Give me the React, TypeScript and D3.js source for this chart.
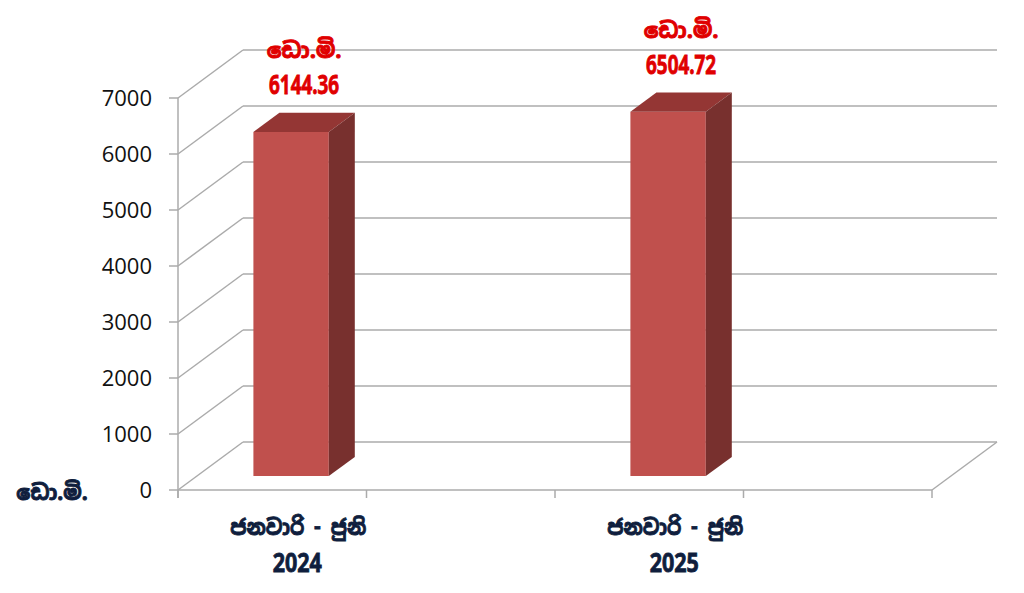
import React from "react";
import * as d3 from "d3";

const categories = ["ජනවාරි - ජුනි 2024", "ජනවාරි - ජුනි 2025"];
const values = [6144.36, 6504.72];
const valueLabels = ["6144.36", "6504.72"];
const unitLabel = "ඩො.මි.";
const yTicks = [0, 1000, 2000, 3000, 4000, 5000, 6000, 7000];

const W = 1024;
const H = 593;
const X0 = 178;
const X1 = 932;
const DX = 65;
const DY = 48;
const Z0 = 0.29;
const Z1 = 0.69;

const FRONT = "#C0504D";
const TOP = "#943634";
const SIDE = "#78302E";
const GRID = "#ABABAB";
const NAVY = "#0F1E3D";
const RED = "#E00000";
const NARROW = "'Liberation Sans Narrow', 'Arial Narrow', 'Noto Sans Sinhala', sans-serif";

export default function App() {
  const x = d3.scaleBand<string>().domain(categories).range([X0, X1]);
  const y = d3.scaleLinear().domain([0, 7000]).range([490, 98]);
  const bw = x.bandwidth();
  const barW = bw * 0.2;

  const tickXs: number[] = [];
  categories.forEach((c) => {
    const s = x(c)!;
    tickXs.push(s, s + bw / 2);
  });
  tickXs.push(X1);

  const P = (px: number, v: number, z: number) => [px + z * DX, y(v) - z * DY];
  const pts = (arr: number[][]) => arr.map((p) => p.join(",")).join(" ");

  return (
    <svg width={W} height={H} style={{ position: "absolute", left: 0, top: 0, background: "#fff" }}>
      {yTicks.map((t) => {
        const [bx, by] = P(X0, t, 1);
        return <line key={"g" + t} x1={bx} y1={by} x2={X1 + DX} y2={by} stroke={GRID} strokeWidth={1.5} />;
      })}
      {yTicks.map((t) => {
        const [bx, by] = P(X0, t, 1);
        return <line key={"d" + t} x1={X0} y1={y(t)} x2={bx} y2={by} stroke={GRID} strokeWidth={1.5} />;
      })}
      <line x1={X0} y1={y(0)} x2={X1} y2={y(0)} stroke={GRID} strokeWidth={1.5} />
      <line x1={X1} y1={y(0)} x2={X1 + DX} y2={y(0) - DY} stroke={GRID} strokeWidth={1.5} />
      <line x1={X0} y1={y(7000)} x2={X0} y2={y(0) + 8} stroke={GRID} strokeWidth={1.5} />
      {yTicks.map((t) => (
        <line key={"t" + t} x1={X0 - 9} y1={y(t)} x2={X0} y2={y(t)} stroke={GRID} strokeWidth={1.5} />
      ))}
      {tickXs.map((tx, i) => (
        <line key={"xt" + i} x1={tx} y1={y(0)} x2={tx} y2={y(0) + 8} stroke={GRID} strokeWidth={1.5} />
      ))}
      {yTicks.map((t) => (
        <text key={"yl" + t} x={152} y={y(t) + 8} textAnchor="end" fontSize={22} fontFamily="'Open Sans', 'Noto Sans', sans-serif" fill="#111">
          {t}
        </text>
      ))}
      <text x={52} y={500} textAnchor="middle" fontSize={21} fontWeight="bold" fontFamily={NARROW} fill={NAVY} stroke={NAVY} strokeWidth={0.9}>
        {unitLabel}
      </text>
      {categories.map((c, i) => {
        const cx = x(c)! + bw / 4;
        const l = cx - barW / 2;
        const r = cx + barW / 2;
        const v = values[i];
        const front = [P(l, v, Z0), P(r, v, Z0), P(r, 0, Z0), P(l, 0, Z0)];
        const top = [P(l, v, Z0), P(r, v, Z0), P(r, v, Z1), P(l, v, Z1)];
        const side = [P(r, v, Z0), P(r, v, Z1), P(r, 0, Z1), P(r, 0, Z0)];
        const [, ty] = P(cx, v, Z1);
        const lx = cx + ((Z0 + Z1) / 2) * DX;
        const parts = c.split(" ");
        const year = parts.pop();
        const lineText = parts.join(" ");
        return (
          <g key={c}>
            <polygon points={pts(front)} fill={FRONT} />
            <polygon points={pts(top)} fill={TOP} />
            <polygon points={pts(side)} fill={SIDE} />
            <text x={lx} y={ty - 55} textAnchor="middle" fontSize={22} fontWeight="bold" fontFamily={NARROW} fill={RED} stroke={RED} strokeWidth={0.9}>
              {unitLabel}
            </text>
            <text x={lx} y={ty - 19} textAnchor="middle" fontSize={26} fontWeight="bold" fontFamily={NARROW} fill={RED} stroke={RED} strokeWidth={0.9} textLength={70} lengthAdjust="spacingAndGlyphs">
              {valueLabels[i]}
            </text>
            <text x={cx + 26} y={535} textAnchor="middle" fontSize={22} fontWeight="bold" fontFamily={NARROW} fill={NAVY} stroke={NAVY} strokeWidth={0.9} textLength={136} lengthAdjust="spacingAndGlyphs">
              {lineText}
            </text>
            <text x={cx + 25} y={572} textAnchor="middle" fontSize={26} fontWeight="bold" fontFamily={NARROW} fill={NAVY} stroke={NAVY} strokeWidth={0.9} textLength={49} lengthAdjust="spacingAndGlyphs">
              {year}
            </text>
          </g>
        );
      })}
    </svg>
  );
}
